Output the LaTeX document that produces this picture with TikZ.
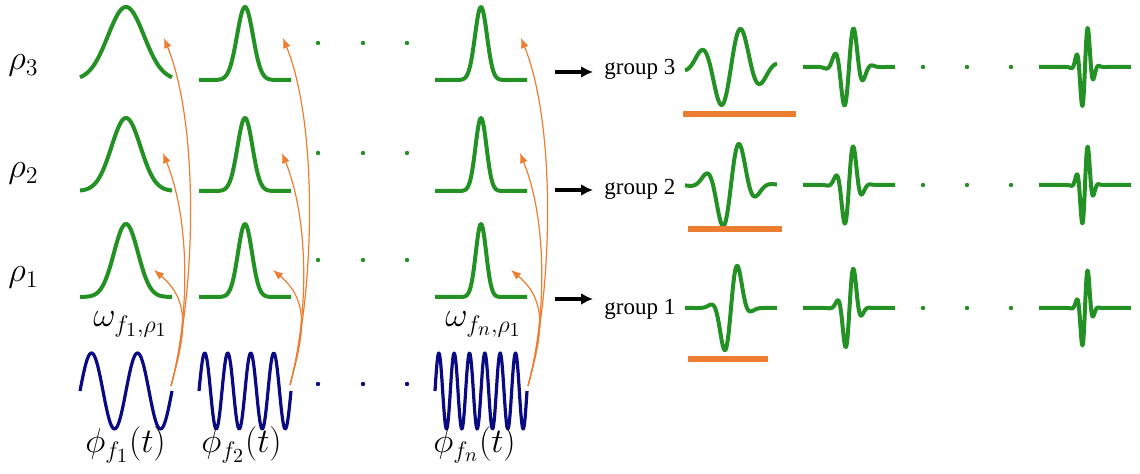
\documentclass[tikz,border=0pt]{standalone}
\usepackage{fontspec}
\newfontfamily\grpfont{Liberation Serif}
\usetikzlibrary{arrows.meta,positioning}
\definecolor{wavegreen}{RGB}{35,145,35}
\definecolor{sinblue}{RGB}{10,10,130}
\definecolor{linkorange}{RGB}{237,125,49}

\begin{document}
\begin{tikzpicture}[x=0.5pt, y=0.5pt, >=Latex, font=\LARGE,
  gausscurve/.style={wavegreen, line width=2pt, line join=round},
  carrier/.style={sinblue, line width=1.6pt, line join=round},
  link/.style={-{Latex[length=5pt,width=4pt]}, linkorange, line width=0.6pt},
  feed/.style={-{Latex[length=6pt,width=6pt]}, black, line width=1.6pt},
  support/.style={linkorange, line width=3.2pt},
  mathlabel/.style={anchor=base west, inner sep=0pt},
  grouplabel/.style={font=\grpfont\fontsize{11.5}{13}\selectfont, anchor=base west,
                     inner xsep=5.5pt, inner ysep=0pt}]
\useasboundingbox (0,0) rectangle (1140,474);

% scale labels
\node[mathlabel] (rho3) at (8,404) {$\rho_3$};
\node[mathlabel] (rho2) at (8,296) {$\rho_2$};
\node[mathlabel] (rho1) at (8,192) {$\rho_1$};

% gaussian windows, one row per scale
\foreach \b/\sa/\sb/\sc in {177/12/7/5.2, 283/14.5/7.5/5.5, 394/18/8/6}{
  \draw[gausscurve] plot[domain=80:172, samples=80] (\x,{\b+73*exp(-(\x-126)*(\x-126)/(2*\sa*\sa))});
  \draw[gausscurve] plot[domain=199:291, samples=100] (\x,{\b+73*exp(-(\x-245)*(\x-245)/(2*\sb*\sb))});
  \draw[gausscurve] plot[domain=435:527, samples=120] (\x,{\b+73*exp(-(\x-481)*(\x-481)/(2*\sc*\sc))});
}
\node[mathlabel] (w1) at (93,147) {$\omega_{f_1,\rho_1}$};
\node[mathlabel] (wn) at (445,147) {$\omega_{f_n,\rho_1}$};

% carriers
\draw[carrier] plot[domain=80:172, samples=90] (\x,{83+38*sin(7.826*(\x-80))});
\draw[carrier] plot[domain=199:291, samples=140] (\x,{83+38*sin(15.652*(\x-199))});
\draw[carrier] plot[domain=435:527, samples=200] (\x,{83+38*sin(23.478*(\x-435))});
\node[mathlabel] (phi1) at (85,21) {$\phi_{f_1}(t)$};
\node[mathlabel] (phi2) at (201,21) {$\phi_{f_2}(t)$};
\node[mathlabel] (phin) at (433,21) {$\phi_{f_n}(t)$};

% dots between columns
\foreach \x in {318,363,407}{
  \foreach \y in {214,321,431}
    \fill[wavegreen] (\x,\y) circle (1.1pt);
  \fill[sinblue] (\x,90) circle (1.1pt);
}

% modulation links
\coordinate (s1) at (171,88);
\coordinate (s2) at (290,89);
\coordinate (sn) at (528,88);
\foreach \r/\t/\dx/\ang/\lo in {1/204/-17/-40/1.1, 2/321/-8/-68/0.8, 3/436/-7/-68/0.7}{
  \coordinate (ta\r) at (171+\dx,\t);
  \coordinate (tb\r) at (290+\dx,\t);
  \coordinate (tn\r) at (528+\dx,\t);
  \draw[link] (s1) to[out=75, in=\ang, looseness=\lo] (ta\r);
  \draw[link] (s2) to[out=75, in=\ang, looseness=\lo] (tb\r);
  \draw[link] (sn) to[out=75, in=\ang, looseness=\lo] (tn\r);
}

% groups
\foreach \r/\ya/\yt in {1/175/159, 2/284/279, 3/402/399}{
  \coordinate (a\r) at (555,\ya);
  \node[grouplabel] (g\r) at (593,\yt) {group \r};
  \draw[feed] (a\r) -- (a\r -| g\r.west);
}

% wavelets: start / baseline / centre / amplitude / width / period
\foreach \xa/\b/\c/\A/\s/\T in {
    685/407/731/42/22/41, 685/289/731/48/15/36, 685/166/731/57/9/32,
    803/407/849/44/9.2/20, 803/289/849/46/7.5/19, 803/166/849.5/48/6.5/18,
    1039/407/1085/45/5.3/12, 1039/289/1085/45/5/12, 1039/166/1085/45/4.6/12}
  \draw[gausscurve] plot[domain=\xa:\xa+92, samples=200]
    (\x,{\b+\A*exp(-(\x-\c)*(\x-\c)/(2*\s*\s))*sin((\x-\c)/\T*360)});

\foreach \x in {923,967,1011}
  \foreach \y in {166,289,407}
    \fill[wavegreen] (\x,\y) circle (1.1pt);

% supports
\draw[support] (683,360) -- (796,360);
\draw[support] (688,245) -- (782,245);
\draw[support] (688,115) -- (768,115);
\end{tikzpicture}
\end{document}
